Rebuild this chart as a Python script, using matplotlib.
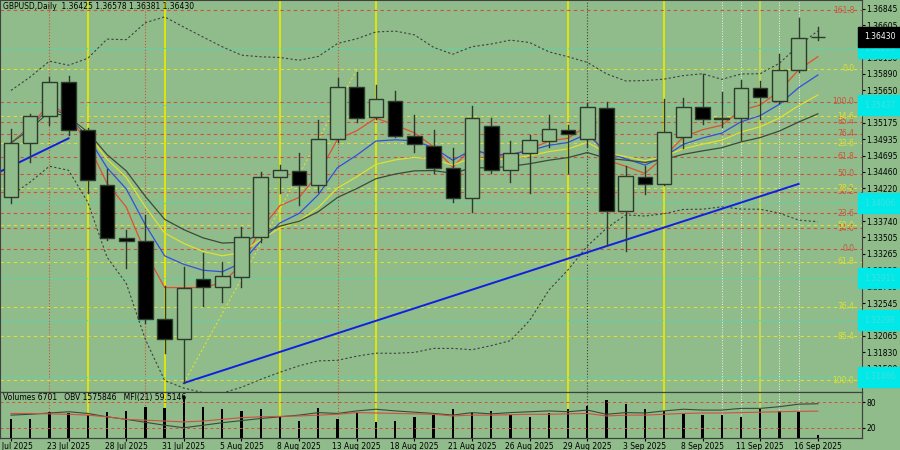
import numpy as np
import pandas as pd
from matplotlib import pyplot as plt
from matplotlib.patches import Rectangle

BG = '#8fbc8a'
DARK = '#2e3a2e'

dates = ['18 Jul 2025', '', '', '23 Jul 2025', '', '', '28 Jul 2025', '', '', '31 Jul 2025', '', '',
         '5 Aug 2025', '', '', '8 Aug 2025', '', '', '13 Aug 2025', '', '', '18 Aug 2025', '', '',
         '21 Aug 2025', '', '', '26 Aug 2025', '', '', '29 Aug 2025', '', '', '3 Sep 2025', '', '',
         '8 Sep 2025', '', '', '11 Sep 2025', '', '', '16 Sep 2025']

opens = [1.34094, 1.34882, 1.35276, 1.35773, 1.35072, 1.34269, 1.33495, 1.33451, 1.32313, 1.32021,
         1.32897, 1.32780, 1.32926, 1.33510, 1.34386, 1.34473, 1.34269, 1.34941, 1.35700, 1.35262,
         1.35495, 1.34984, 1.34838, 1.34517, 1.34079, 1.35130, 1.34488, 1.34736, 1.34911, 1.35072,
         1.34941, 1.35393, 1.33889, 1.34386, 1.34284, 1.34970, 1.35408, 1.35233, 1.35247, 1.35685,
         1.35495, 1.35948, 1.36425]
highs = [1.35087, 1.35306, 1.35846, 1.35860, 1.35101, 1.34503, 1.33612, 1.33831, 1.32794, 1.33072,
         1.33276, 1.33145, 1.33656, 1.34459, 1.34561, 1.34736, 1.35218, 1.35831, 1.35919, 1.35729,
         1.35641, 1.35291, 1.35072, 1.34809, 1.35422, 1.35247, 1.34911, 1.34999, 1.35291, 1.35145,
         1.35466, 1.35481, 1.34546, 1.34546, 1.35525, 1.35539, 1.35890, 1.35627, 1.35802, 1.35787,
         1.36182, 1.36707, 1.36578]
lows = [1.34006, 1.34605, 1.35145, 1.34999, 1.34152, 1.33466, 1.33057, 1.32254, 1.31816, 1.31378,
        1.32502, 1.32561, 1.32780, 1.33437, 1.34152, 1.33977, 1.34167, 1.34897, 1.35189, 1.35233,
        1.34970, 1.34751, 1.34444, 1.34021, 1.33875, 1.34444, 1.34313, 1.34152, 1.34824, 1.34444,
        1.34824, 1.33393, 1.33305, 1.34138, 1.34270, 1.34809, 1.35160, 1.35116, 1.34926, 1.35233,
        1.35466, 1.35919, 1.36381]
closes = [1.34882, 1.35276, 1.35773, 1.35072, 1.34342, 1.33495, 1.33451, 1.32313, 1.32021, 1.32765,
          1.32780, 1.32940, 1.33510, 1.34386, 1.34488, 1.34269, 1.34941, 1.35700, 1.35247, 1.35525,
          1.34984, 1.34868, 1.34517, 1.34079, 1.35247, 1.34488, 1.34736, 1.34926, 1.35087, 1.35014,
          1.35408, 1.33889, 1.34400, 1.34284, 1.35043, 1.35408, 1.35233, 1.35240, 1.35685, 1.35554,
          1.35948, 1.36415, 1.36430]

volumes = [34000, 34000, 46000, 44000, 42000, 46000, 48000, 56000, 53000, 75000,
           56000, 51000, 48000, 51000, 37000, 31000, 53000, 34000, 44000, 29000,
           31000, 37000, 42000, 51000, 44000, 48000, 41000, 37000, 44000, 51000,
           58000, 68000, 60000, 51000, 48000, 44000, 42000, 41000, 37000, 51000,
           48000, 46000, 6701]
obv = [50, 52, 55, 58, 54, 46, 40, 33, 26, 20, 26, 32, 37, 42, 46, 50, 56, 54, 60, 64,
       60, 57, 54, 50, 56, 53, 56, 58, 60, 58, 62, 52, 56, 55, 60, 64, 62, 62, 66, 66,
       70, 76, 77]
mfi = [54, 54, 53, 52, 50, 46, 40, 38, 36, 34, 36, 40, 44, 46, 47, 48, 50, 52, 56, 55,
       54, 53, 52, 48, 50, 50, 51, 52, 52, 53, 54, 48, 50, 50, 52, 54, 55, 55, 56, 57,
       58, 59, 59.5]

fib_red = {'161.8': 1.36824, '100.0': 1.35481, '85.4': 1.35189, '76.4': 1.35014, '61.8': 1.34678,
           '50.0': 1.34430, '38.2': 1.34167, '23.6': 1.33860, '14.6': 1.33641, '0.0': 1.33335}
fib_yel = {'0.0': 1.35963, '14.6': 1.35276, '23.6': 1.34882, '38.2': 1.34225, '50.0': 1.33685,
           '61.8': 1.33145, '76.4': 1.32488, '85.4': 1.32064, '100.0': 1.31422}
cyan_levels = [1.36269, 1.35437, 1.34006, 1.32911, 1.32298, 1.31466]
price_ticks = [1.36845, 1.36605, 1.36370, 1.36130, 1.35890, 1.35650, 1.35415, 1.35175, 1.34935,
               1.34695, 1.34460, 1.34220, 1.33980, 1.33740, 1.33505, 1.33265, 1.33025, 1.32785,
               1.32545, 1.32305, 1.32065, 1.31830, 1.31590, 1.31350]
vline_yellow = [4, 8, 14, 19, 29, 34]
vline_red = [2, 7, 17]
vline_white = [37, 38, 40, 41]

n = len(closes)
x = np.arange(n)
cl = pd.Series(closes)

fig = plt.figure(figsize=(9, 4.5), dpi=100, facecolor=BG)
ax = fig.add_axes([0, 0.1289, 0.9578, 0.8711], facecolor=BG)
vx = fig.add_axes([0, 0.026, 0.9578, 0.103], facecolor=BG, sharex=ax)

for a in (ax, vx):
    for v in vline_yellow:
        a.axvline(v, color='#e8e800', lw=1.3, zorder=1)
    a.axvline(39, color='#c8dc50', lw=1.3, zorder=1)
    for v in vline_red:
        a.axvline(v, color='#d05040', lw=0.8, ls=':', zorder=1)
    a.axvline(30, color='#404040', lw=0.8, ls=':', zorder=1)
    for v in vline_white:
        a.axvline(v, color='#f0f0f0', lw=0.7, ls=':', zorder=1)

for lab, p in fib_red.items():
    ax.axhline(p, color='#d05040', lw=0.8, ls=(0, (3, 3)), zorder=1)
    ax.text(43.9, p, lab, color='#d05040', fontsize=5.5, ha='right', va='center')
for lab, p in fib_yel.items():
    ax.axhline(p, color='#e0e030', lw=0.8, ls=(0, (3, 3)), zorder=1)
    ax.text(43.9, p, lab, color='#e0e030', fontsize=5.5, ha='right', va='center')
for p in cyan_levels:
    ax.axhline(p, color='#40e0c0', lw=0.7, ls=(0, (2, 2)), zorder=1)

# indicators
mid = cl.rolling(20, min_periods=1).mean()
sd = cl.rolling(20, min_periods=4).std().bfill()
ax.plot(x, mid + 2 * sd, color='#404040', lw=0.8, ls=(0, (2, 2)))
ax.plot(x, mid - 2 * sd, color='#404040', lw=0.8, ls=(0, (2, 2)))
ax.plot(x, cl.ewm(span=4).mean(), color='#e05030', lw=0.9)
ax.plot(x, cl.ewm(span=7).mean(), color='#3050e0', lw=0.9)
ax.plot(x, cl.ewm(span=12).mean(), color='#e0e030', lw=0.9)
ax.plot(x, cl.ewm(span=20).mean(), color='#3a4a3a', lw=0.9)

ax.plot([9, 41], [lows[9], 1.34285], color='#1020e0', lw=1.4)
ax.plot([-0.6, 3], [1.34460, 1.34950], color='#1020e0', lw=1.4)
ax.plot([9, 18], [lows[9], 1.35950], color='#e0e030', lw=0.8, ls=(0, (2, 2)))

for i in range(n):
    o, h, l, c = opens[i], highs[i], lows[i], closes[i]
    ax.plot([i, i], [l, h], color=DARK, lw=1, zorder=3)
    bottom, top = min(o, c), max(o, c)
    fc = 'black' if c < o else BG
    ax.add_patch(Rectangle((i - 0.38, bottom), 0.76, max(top - bottom, 0.00004),
                           facecolor=fc, edgecolor=DARK, lw=1, zorder=4))

ax.set_xlim(-0.57, 44.3)
ax.set_ylim(1.31247, 1.36970)
ax.yaxis.tick_right()
ax.set_yticks(price_ticks)
ax.set_yticklabels([f'{p:.5f}' for p in price_ticks], fontsize=5.5)
ax.tick_params(axis='y', length=2, pad=1, colors='black')
ax.tick_params(axis='x', bottom=False, labelbottom=False)
for p in cyan_levels:
    ax.text(1.002, p, f'{p:.5f}', transform=ax.get_yaxis_transform(), fontsize=5.5,
            color='#40e0e0', va='center', backgroundcolor='#00e8e8')
ax.text(1.002, 1.36430, '1.36430', transform=ax.get_yaxis_transform(), fontsize=5.5,
        color='white', va='center', backgroundcolor='black')
ax.text(0.003, 0.995, 'GBPUSD,Daily  1.36425 1.36578 1.36381 1.36430', transform=ax.transAxes,
        fontsize=5.5, va='top')

vx.bar(x, volumes, width=0.12, color='black')
vx.set_ylim(0, 82000)
vx.yaxis.tick_right()
vx.set_yticks([0, 74560])
vx.set_yticklabels(['0', '74560'], fontsize=5.5)
vx.tick_params(axis='y', length=2, pad=1)
m = vx.twinx()
m.set_ylim(-5, 105)
m.plot(x, obv, color='#3a4a3a', lw=0.8)
m.plot(x, mfi, color='#d05040', lw=0.8)
m.axhline(80, color='#d05040', lw=0.7, ls=(0, (3, 3)))
m.axhline(20, color='#d05040', lw=0.7, ls=(0, (3, 3)))
m.set_yticks([20, 80])
m.set_yticklabels(['20', '80'], fontsize=5.5)
m.tick_params(length=2, pad=1)
vx.text(0.003, 0.97, 'Volumes 6701   OBV 1575846   MFI(21) 59.5146', transform=vx.transAxes,
        fontsize=5.5, va='top')
vx.set_xticks(x[::3])
vx.set_xticklabels(dates[::3], fontsize=5.5)
vx.tick_params(axis='x', length=2, pad=1)

for a in (ax, vx, m):
    for s in a.spines.values():
        s.set_color('#404040')

fig.savefig('out.png', facecolor=BG)
